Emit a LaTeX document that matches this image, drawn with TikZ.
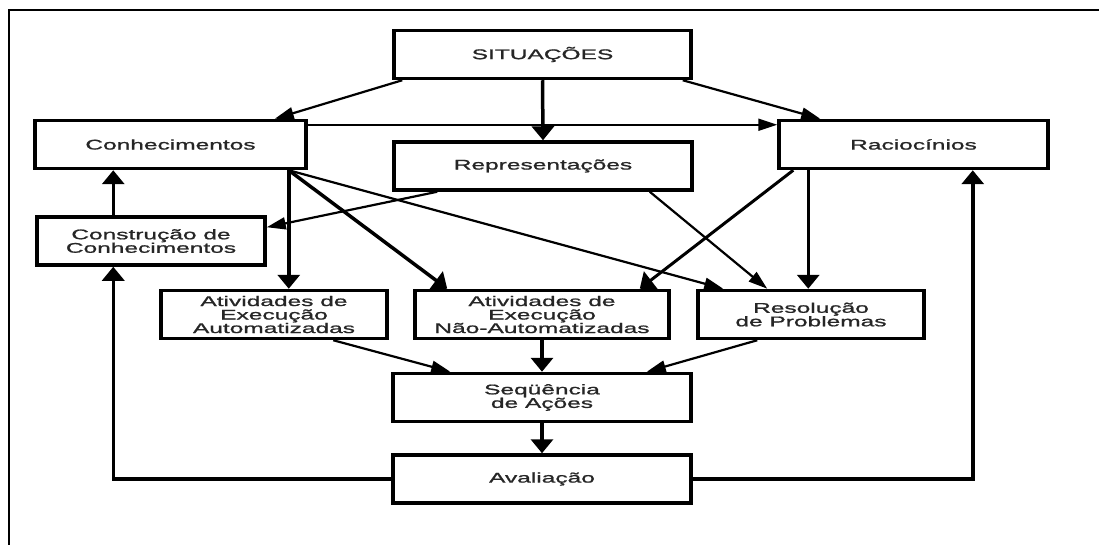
\documentclass[tikz,border=0pt]{standalone}
\usepackage{fontspec}
\setmainfont{Liberation Sans}[FakeStretch=1.75,FakeBold=1.2]
\usetikzlibrary{arrows.meta}

\begin{document}
\begin{tikzpicture}[x=1pt,y=-1pt,
	caixa/.style={draw,line width=3.5pt,inner sep=0pt,minimum height=48pt,align=center,text=black!85,font=\fontsize{14}{13.5}\selectfont},
	grossa/.style={line width=3.5pt,-{Triangle[length=14pt,width=22pt]}},
	fina/.style={line width=2.2pt,-{Triangle[length=19pt,width=12pt]}}]
	\useasboundingbox (0,0) rectangle (1099,545);
	\coordinate (canto) at (9,10);
	\coordinate (topo) at (1099,10);
	\coordinate (base) at (9,545);
	\draw[line width=2.5pt] (topo) -- (canto) -- (base);

	\node[caixa,minimum width=297pt] (sit) at (542.5,54.5) {SITUAÇÕES};
	\node[caixa,minimum width=271pt] (con) at (170.5,144.5) {Conhecimentos};
	\node[caixa,minimum width=298pt] (rep) at (543,166) {Representações};
	\node[caixa,minimum width=269pt] (rac) at (913.5,144.5) {Raciocínios};
	\node[caixa,minimum width=228pt] (cons) at (151,241) {Construção de\\Conhecimentos};
	\node[caixa,minimum width=226pt] (aauto) at (274,314.5) {Atividades de\\Execução\\Automatizadas};
	\node[caixa,minimum width=254pt] (anauto) at (542,314.5) {Atividades de\\Execução\\Não-Automatizadas};
	\node[caixa,minimum width=226pt] (res) at (811,314.5) {Resolução\\de Problemas};
	\node[caixa,minimum width=298pt] (seq) at (542,397.5) {Seqüência\\de Ações};
	\node[caixa,minimum width=298pt] (ava) at (542,479) {Avaliação};

	\coordinate (sai) at ([xshift=-19pt]con.south east);
	\coordinate (c1) at ([xshift=78pt]cons.north west);
	\coordinate (c2) at ([xshift=31pt]rac.south west);
	\coordinate (c3) at ([xshift=-77pt]rac.south east);
	\coordinate (c4) at ([xshift=78pt]cons.south west);

	\draw[fina] ([xshift=10pt]sit.south west) -- ([xshift=-33pt]con.north east);
	\draw[grossa] (sit.south) -- (rep.north);
	\draw[fina] ([xshift=-10pt]sit.south east) -- ([xshift=43pt]rac.north west);
	\draw[fina] ([yshift=-6pt]con.north east) -- ([yshift=-6pt]rac.north west);
	\draw[grossa] (c1) -- (c1 |- con.south);
	\draw[grossa] (sai) -- (sai |- aauto.north);
	\draw[grossa] (sai) -- ([xshift=34pt]anauto.north west);
	\draw[fina] (sai) -- ([xshift=27pt]res.north west);
	\draw[fina] ([xshift=45pt]rep.south west) -- ([yshift=-12pt]cons.north east);
	\draw[fina] ([xshift=-44pt]rep.south east) -- ([xshift=71pt]res.north west);
	\draw[grossa,line width=3pt] ([xshift=16pt]rac.south west) -- ([xshift=-31pt]anauto.north east);
	\draw[grossa] (c2) -- (c2 |- res.north);
	\draw[grossa] (ava.east) -| (c3);
	\draw[grossa] (ava.west) -| (c4);
	\draw[fina] ([xshift=174pt]aauto.south west) -- ([xshift=59pt]seq.north west);
	\draw[grossa] (anauto.south) -- (seq.north);
	\draw[fina] ([xshift=61pt]res.south west) -- ([xshift=-46pt]seq.north east);
	\draw[grossa] (seq.south) -- (ava.north);
\end{tikzpicture}
\end{document}
